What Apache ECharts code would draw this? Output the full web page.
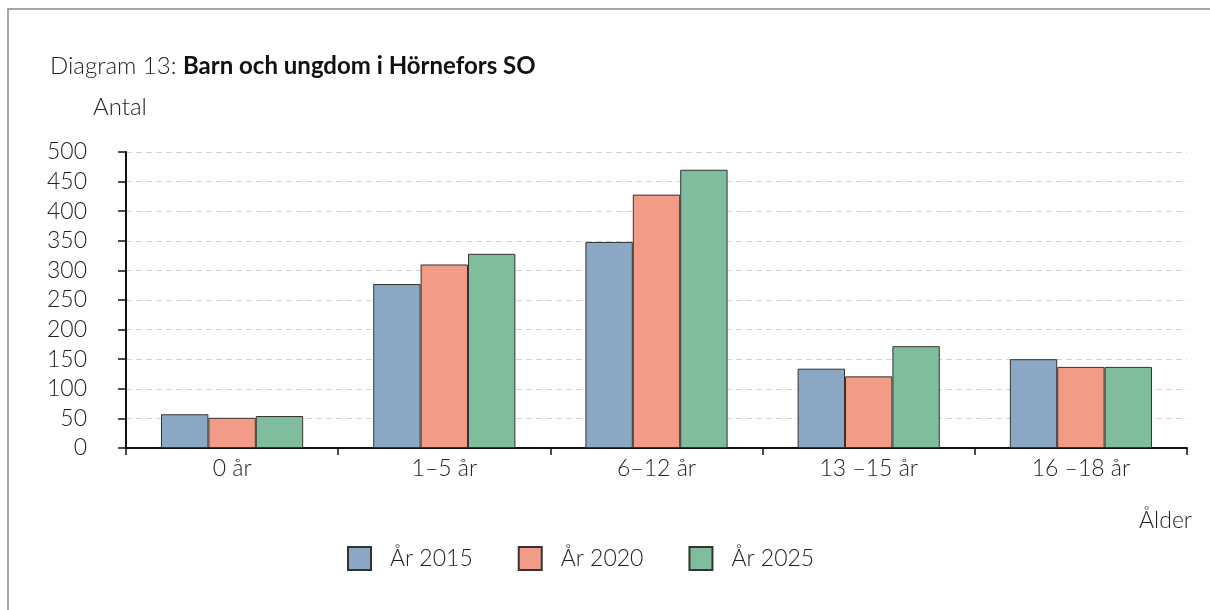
<!DOCTYPE html>
<html>
<head>
<meta charset="utf-8">
<script src="https://cdn.jsdelivr.net/npm/echarts@6/dist/echarts.min.js"></script>
<style>
  html, body { margin: 0; padding: 0; background: #fff; }
  #chart { width: 1210px; height: 610px; }
</style>
</head>
<body>
<div id="chart"></div>
<script>
// age groups on x axis
const categories = ['0 år', '1–5 år', '6–12 år', '13 –15 år', '16 –18 år']
const seriesNames = ['År 2015', 'År 2020', 'År 2025']
const values2015 = [57, 277, 348, 134, 150]
const values2020 = [51, 310, 428, 121, 137]
const values2025 = [54, 328, 470, 172, 137]
const yTicks = { min: 0, max: 500, interval: 50 }

const colors = ['#8ca7c4', '#f29c88', '#7fbd9c']
const font = 'Lato'
const fs = 23

const chart = echarts.init(document.getElementById('chart'))

const makeSeries = (name, data, i) => ({
  name: name,
  type: 'bar',
  data: data,
  barGap: '0%',
  barCategoryGap: '33%',
  itemStyle: {
    color: colors[i],
    borderColor: '#333',
    borderWidth: 1
  }
})

chart.setOption({
  animation: false,
  textStyle: { fontFamily: font },
  title: {
    left: 45,
    top: 49,
    text: '{a|Diagram 13: }{b|Barn och ungdom i Hörnefors SO}',
    textStyle: {
      rich: {
        a: { fontFamily: font, fontSize: 24, fontWeight: 300, color: '#222' },
        b: { fontFamily: font, fontSize: 24, fontWeight: 'bold', color: '#111' }
      }
    }
  },
  graphic: [
    {
      type: 'rect',
      shape: { x: 8, y: 9, width: 1400, height: 800 },
      style: { fill: 'none', stroke: '#8a8a8a', lineWidth: 1.5 },
      silent: true
    },
    {
      type: 'text',
      left: 93,
      top: 95,
      style: { text: 'Antal', fontFamily: font, fontSize: 24, fontWeight: 300, fill: '#222' }
    },
    {
      type: 'text',
      right: 18,
      top: 509,
      style: { text: 'Ålder', fontFamily: font, fontSize: fs, fontWeight: 300, fill: '#222' }
    }
  ],
  legend: {
    left: 347,
    top: 546,
    padding: 0,
    itemWidth: 23,
    itemHeight: 23,
    itemGap: 45,
    icon: 'rect',
    data: seriesNames,
    textStyle: {
      fontFamily: font,
      fontSize: fs,
      fontWeight: 300,
      color: '#222',
      padding: [0, 0, 0, 14]
    }
  },
  grid: {
    left: 126,
    right: 23,
    top: 152,
    bottom: 162,
    containLabel: false
  },
  xAxis: {
    type: 'category',
    data: categories,
    axisLine: { lineStyle: { color: '#111', width: 2 } },
    axisTick: { show: true, length: 7, lineStyle: { color: '#111', width: 1.5 } },
    axisLabel: {
      fontFamily: font,
      fontSize: fs,
      fontWeight: 300,
      color: '#222',
      margin: 9
    }
  },
  yAxis: {
    type: 'value',
    min: yTicks.min,
    max: yTicks.max,
    interval: yTicks.interval,
    axisLine: { show: true, lineStyle: { color: '#111', width: 2 } },
    axisTick: { show: true, length: 8, lineStyle: { color: '#111', width: 1.5 } },
    axisLabel: {
      fontFamily: font,
      fontSize: fs,
      fontWeight: 300,
      color: '#222',
      margin: 39,
      align: 'right'
    },
    splitLine: {
      show: true,
      lineStyle: { color: '#d4d4d4', type: [6, 4], width: 1.2 }
    }
  },
  series: [
    makeSeries(seriesNames[0], values2015, 0),
    makeSeries(seriesNames[1], values2020, 1),
    makeSeries(seriesNames[2], values2025, 2)
  ]
})
</script>
</body>
</html>
